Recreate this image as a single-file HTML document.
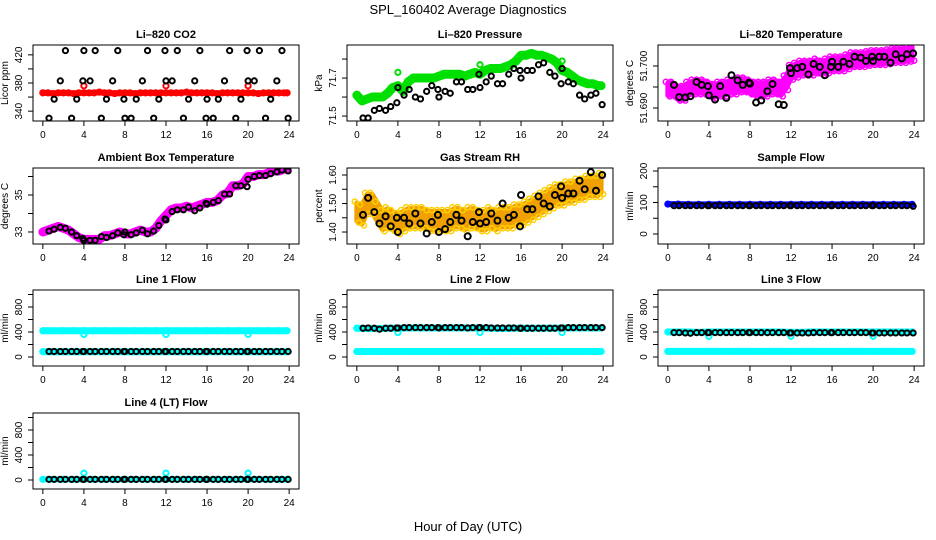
<!DOCTYPE html>
<html><head><meta charset="utf-8"><style>
html,body{margin:0;padding:0;background:#fff;}
svg{display:block;font-family:"Liberation Sans",sans-serif;}
</style></head><body>
<svg id="chart" width="936" height="540" viewBox="0 0 936 540">
<text x="468" y="14" text-anchor="middle" font-size="13">SPL_160402  Average Diagnostics</text>
<text x="468" y="531" text-anchor="middle" font-size="13">Hour of Day (UTC)</text>
</svg>
<script>
const halfT=[0,0.5,1,1.5,2,2.5,3,3.5,4,4.5,5,5.5,6,6.5,7,7.5,8,8.5,9,9.5,10,10.5,11,11.5,12,12.5,13,13.5,14,14.5,15,15.5,16,16.5,17,17.5,18,18.5,19,19.5,20,20.5,21,21.5,22,22.5,23,23.5,23.8];
const hourT=[0,1,2,3,4,5,6,7,8,9,10,11,12,13,14,15,16,17,18,19,20,21,22,23,23.8];
const blackT=[0.6,1.1,1.7,2.2,2.8,3.3,3.9,4.0,4.6,5.1,5.7,6.2,6.8,7.3,7.9,8.0,8.6,9.1,9.7,10.2,10.8,11.3,11.9,12.0,12.6,13.1,13.7,14.2,14.8,15.3,15.9,16.0,16.6,17.1,17.7,18.2,18.8,19.3,19.9,20.0,20.6,21.1,21.7,22.2,22.8,23.3,23.9];
const outlierT=[4,12,20];
const xTicks=[0,4,8,12,16,20,24];

const co2Black=[330,357,383,426,330,357,383,426,383,426,330,357,383,426,357,330,330,357,383,426,330,357,426,383,383,426,330,357,383,426,330,357,330,357,383,426,330,357,426,383,383,426,330,357,383,426,330];
const co2Red=[366,366,365,366,366,366,365,366,366,366,366,367,366,366,365,366,366,366,365,366,366,366,366,366,366,366,366,366,367,366,366,366,366,366,365,366,366,366,366,366,366,366,365,366,366,366,366,366,366];
const co2RedOut=[376,376,376];

const presBlack=[71.49,71.49,71.53,71.54,71.53,71.55,71.57,71.65,71.61,71.64,71.60,71.59,71.63,71.66,71.64,71.60,71.63,71.62,71.68,71.68,71.64,71.64,71.72,71.65,71.68,71.71,71.67,71.67,71.72,71.75,71.74,71.70,71.74,71.74,71.77,71.78,71.73,71.71,71.67,71.75,71.68,71.67,71.61,71.59,71.61,71.62,71.56];
const presGreen=[71.61,71.58,71.59,71.60,71.60,71.60,71.62,71.65,71.66,71.63,71.68,71.70,71.70,71.70,71.70,71.70,71.71,71.72,71.72,71.72,71.72,71.71,71.72,71.73,71.72,71.74,71.75,71.75,71.75,71.76,71.77,71.79,71.82,71.82,71.83,71.82,71.82,71.81,71.80,71.78,71.74,71.73,71.71,71.69,71.68,71.67,71.67,71.66,71.66];
const presGreenOut=[71.73,71.77,71.79];

const liBlack=[51.6955,51.6926,51.6925,51.6928,51.6962,51.6955,51.6952,51.6930,51.6920,51.6952,51.6924,51.6978,51.6966,51.6955,51.6960,51.6958,51.6913,51.6918,51.6940,51.6957,51.6909,51.6907,51.6995,51.6983,51.6995,51.6998,51.6980,51.7005,51.6998,51.6978,51.6998,51.7010,51.6998,51.7010,51.7005,51.7022,51.7020,51.7012,51.7022,51.7012,51.7022,51.7022,51.7008,51.7028,51.7018,51.7028,51.7030];
const liMag=[51.6945,51.6945,51.6935,51.6935,51.6945,51.6950,51.6950,51.6950,51.6945,51.6940,51.6945,51.6945,51.6950,51.6950,51.6955,51.6955,51.6950,51.6945,51.6945,51.6945,51.6950,51.6950,51.6945,51.6960,51.6985,51.6990,51.6995,51.6995,51.6995,51.7000,51.6995,51.7000,51.7005,51.7005,51.7005,51.7010,51.7015,51.7015,51.7015,51.7018,51.7020,51.7020,51.7020,51.7022,51.7025,51.7025,51.7025,51.7028,51.7030];
const liSpread=[0.0015];

const ambBlack=[33.05,33.15,33.25,33.2,33.0,32.8,32.65,32.55,32.55,32.55,32.75,32.7,32.8,32.95,32.85,33.0,32.85,32.95,33.1,32.9,33.05,33.35,33.7,33.65,34.1,34.2,34.2,34.35,34.15,34.3,34.55,34.5,34.6,34.7,35.05,35.05,35.5,35.5,35.45,35.85,36.0,36.05,36.05,36.15,36.25,36.35,36.3];
const ambMag=[33.0,33.1,33.2,33.3,33.2,33.1,32.9,32.7,32.6,32.6,32.6,32.6,32.8,32.8,32.9,33.0,32.9,32.9,33.0,33.1,33.0,33.0,33.2,33.6,33.9,34.2,34.3,34.3,34.4,34.3,34.4,34.5,34.6,34.6,34.7,35.0,35.1,35.5,35.5,35.6,36.0,36.0,36.1,36.1,36.2,36.3,36.3,36.4,36.4];

const rhBlack=[1.46,1.52,1.47,1.43,1.455,1.42,1.45,1.40,1.45,1.43,1.465,1.43,1.395,1.435,1.46,1.40,1.41,1.435,1.46,1.44,1.385,1.435,1.47,1.43,1.435,1.465,1.44,1.50,1.45,1.46,1.42,1.53,1.48,1.48,1.525,1.50,1.49,1.53,1.56,1.52,1.535,1.535,1.58,1.55,1.61,1.545,1.60];
const rhOrange=[1.47,1.46,1.50,1.50,1.47,1.44,1.45,1.44,1.43,1.44,1.45,1.45,1.45,1.45,1.44,1.44,1.44,1.44,1.44,1.45,1.45,1.44,1.45,1.45,1.44,1.44,1.45,1.44,1.45,1.45,1.45,1.46,1.46,1.47,1.48,1.49,1.50,1.51,1.52,1.53,1.53,1.54,1.54,1.55,1.55,1.56,1.56,1.56,1.57];
const rhSpread=[0.032];

const sfBlue=[95,95,94,94,94,94,94,94,94,94,94,94,94,94,94,94,94,94,94,94,94,94,94,94,94];
const sfBlack=[90,90,90,90,90,90,90,90,90,90,90,90,90,90,90,90,90,90,90,90,90,90,90,90,90,90,90,90,90,90,90,90,90,90,90,90,90,90,90,90,90,90,90,90,90,90,88];

const l1CyanHigh=[420,420,420,420,420,420,420,420,420,420,420,420,420,420,420,420,420,420,420,420,420,420,420,420,420];
const l1CyanLow=[85,85,85,85,85,85,85,85,85,85,85,85,85,85,85,85,85,85,85,85,85,85,85,85,85];
const l1CyanOut=[360,360,360];
const l1Black=[88,88,88,88,88,88,88,88,88,88,88,88,88,88,88,88,88,88,88,88,88,88,88,88,88,88,88,88,88,88,88,88,88,88,88,88,88,88,88,88,88,88,88,88,88,88,88];

const l2CyanHigh=[460,455,455,460,460,465,465,465,465,465,465,465,465,460,455,460,460,460,460,460,465,465,465,465,465];
const l2CyanLow=[88,88,88,88,88,88,88,88,88,88,88,88,88,88,88,88,88,88,88,88,88,88,88,88,88];
const l2CyanOut=[390,390,390];
const l2Black=[460,465,460,445,460,460,465,465,470,470,470,470,470,470,470,465,470,470,470,470,465,470,470,470,470,465,465,465,465,465,460,460,460,460,460,460,460,460,465,465,470,470,470,470,470,470,470];

const l3CyanHigh=[400,400,400,395,400,400,400,400,400,400,400,400,395,395,400,400,400,400,400,400,400,400,400,400,400];
const l3CyanLow=[90,90,90,90,90,90,90,90,90,90,90,90,90,90,90,90,90,90,90,90,90,90,90,90,90];
const l3CyanOut=[330,330,330];
const l3Black=[390,390,385,380,390,390,390,390,390,390,390,390,390,390,390,390,390,390,390,390,390,390,385,385,385,385,385,390,390,390,390,390,390,390,390,390,390,390,385,385,385,385,385,385,385,385,385];

const l4Cyan=[10,10,10,10,10,10,10,10,10,10,10,10,10,10,10,10,10,10,10,10,10,10,10,10,10];
const l4CyanOut=[110,110,110];
const l4Black=[10,10,10,10,10,10,10,10,10,10,10,10,10,10,10,10,10,10,10,10,10,10,10,10,10,10,10,10,10,10,10,10,10,10,10,10,10,10,10,10,10,10,10,10,10,10,10];

const NS='http://www.w3.org/2000/svg';
const svg=document.getElementById('chart');
const colLeft=[33,347,658], rowTop=[45,168,290,413], PW=266, PH=76;
function mk(tag,attrs,parent){const e=document.createElementNS(NS,tag);for(const k in attrs)e.setAttribute(k,attrs[k]);parent.appendChild(e);return e;}

function panel(name,col,row,title,ylab,ymin,ymax,ticks,labels,drawFn){
  const L=colLeft[col],T=rowTop[row];
  const g=mk('g',{},svg);
  
  
  const sx=t=>L+(t+0.96)/25.92*PW;
  const sy=v=>T+PH-(v-ymin)/(ymax-ymin)*PH;
  const defs=mk('clipPath',{id:'clip-'+name},g);
  mk('rect',{x:L,y:T,width:PW,height:PH},defs);
  const plot=mk('g',{'clip-path':'url(#clip-'+name+')'},g);
  
  
  drawFn(plot,sx,sy);
  const box=mk('rect',{x:L,y:T,width:PW,height:PH,fill:'none',stroke:'#000','stroke-width':1},g);
  
  
  const tt=mk('text',{x:L+PW/2,y:T-7,'text-anchor':'middle','font-size':11,'font-weight':'bold'},g);
  tt.textContent=title;
  
  
  const xa=mk('g',{},g);
  
  
  mk('line',{x1:sx(0),x2:sx(24),y1:T+PH,y2:T+PH,stroke:'#000'},xa);
  xTicks.forEach(v=>{
    mk('line',{x1:sx(v),x2:sx(v),y1:T+PH,y2:T+PH+5,stroke:'#000'},xa);
    const tx=mk('text',{x:sx(v),y:T+PH+17,'text-anchor':'middle','font-size':10},xa);
    tx.textContent=v;
    
    
  });
  const ya=mk('g',{},g);
  
  
  mk('line',{x1:L,x2:L,y1:sy(ticks[0]),y2:sy(ticks[ticks.length-1]),stroke:'#000'},ya);
  ticks.forEach(v=>mk('line',{x1:L-5,x2:L,y1:sy(v),y2:sy(v),stroke:'#000'},ya));
  labels.forEach(l=>{
    const y=sy(l[0]);
    const tx=mk('text',{x:L-11,y:y,'text-anchor':'middle','font-size':10,transform:'rotate(-90 '+(L-11)+' '+y+')'},ya);
    tx.textContent=l[1];
    
    
  });
  const yl=mk('text',{x:L-25,y:T+PH/2,'text-anchor':'middle','font-size':10,transform:'rotate(-90 '+(L-25)+' '+(T+PH/2)+')'},g);
  yl.textContent=ylab;
  
  
}

function band(p,sx,sy,ts,vs,color,w,nm){
  const gg=mk('g',{},p);
  
  
  mk('polyline',{points:ts.map((t,i)=>sx(t)+','+sy(vs[i])).join(' '),fill:'none',stroke:color,'stroke-width':w,'stroke-linejoin':'round','stroke-linecap':'round'},gg);
  ts.forEach((t,i)=>mk('circle',{cx:sx(t),cy:sy(vs[i]),r:2.6,fill:'none',stroke:color,'stroke-width':2},gg));
}
function spreadBand(p,sx,sy,ts,vs,sp,color,edge,nm){
  const gg=mk('g',{},p);
  
  
  const up=ts.map((t,i)=>sx(t)+','+sy(vs[i]+sp));
  const dn=ts.map((t,i)=>sx(t)+','+sy(vs[i]-sp)).reverse();
  mk('polygon',{points:up.concat(dn).join(' '),fill:color,stroke:color,'stroke-width':5,'stroke-linejoin':'round'},gg);
  ts.forEach((t,i)=>{
    mk('circle',{cx:sx(t)-2,cy:sy(vs[i]+sp*1.15),r:2.6,fill:'none',stroke:edge,'stroke-width':1.5},gg);
    mk('circle',{cx:sx(t)+2,cy:sy(vs[i]-sp*1.15),r:2.6,fill:'none',stroke:edge,'stroke-width':1.5},gg);
  });
}
function pts(p,sx,sy,ts,vs,color,nm,r){
  const gg=mk('g',{},p);
  
  
  ts.forEach((t,i)=>{
    const c=mk('circle',{cx:sx(t),cy:sy(vs[i]),r:r||2.6,fill:'none',stroke:color,'stroke-width':2},gg);
    
    
  });
}

panel('co2',0,0,'Li\u2013820 CO2','Licor ppm',326,434,[340,360,380,400,420],[[340,'340'],[380,'380'],[420,'420']],(p,sx,sy)=>{
  band(p,sx,sy,halfT,co2Red,'#ff0000',6,'co2-red-series');
  pts(p,sx,sy,outlierT,co2RedOut,'#ff0000','co2-red-outliers');
  pts(p,sx,sy,blackT,co2Black,'#000','co2-black-series');
});
panel('pressure',1,0,'Li\u2013820 Pressure','kPa',71.474,71.874,[71.5,71.6,71.7,71.8],[[71.5,'71.5'],[71.7,'71.7']],(p,sx,sy)=>{
  band(p,sx,sy,halfT,presGreen,'#00e000',9,'pressure-green-series');
  pts(p,sx,sy,outlierT,presGreenOut,'#00e000','pressure-green-outliers');
  pts(p,sx,sy,blackT,presBlack,'#000','pressure-black-series');
});
panel('li-temp',2,0,'Li\u2013820 Temperature','degrees C',51.6869,51.705,[51.690,51.695,51.700],[[51.690,'51.690'],[51.700,'51.700']],(p,sx,sy)=>{
  spreadBand(p,sx,sy,halfT,liMag,liSpread[0],'#ff00ff','#ff00ff','li-temp-magenta-series');
  pts(p,sx,sy,blackT,liBlack,'#000','li-temp-black-series',3);
});
panel('ambient',0,1,'Ambient Box Temperature','degrees C',32.35,36.46,[33,34,35,36],[[33,'33'],[35,'35']],(p,sx,sy)=>{
  band(p,sx,sy,halfT,ambMag,'#ff00ff',9,'ambient-magenta-series');
  pts(p,sx,sy,blackT,ambBlack,'#000','ambient-black-series');
});
panel('rh',1,1,'Gas Stream RH','percent',1.358,1.6246,[1.40,1.45,1.50,1.55,1.60],[[1.40,'1.40'],[1.50,'1.50'],[1.60,'1.60']],(p,sx,sy)=>{
  spreadBand(p,sx,sy,halfT,rhOrange,rhSpread[0],'#f0a000','#ffd000','rh-orange-series');
  pts(p,sx,sy,blackT,rhBlack,'#000','rh-black-series',3);
});
panel('sample-flow',2,1,'Sample Flow','ml/min',-31.7,209.5,[0,50,100,150,200],[[0,'0'],[100,'100'],[200,'200']],(p,sx,sy)=>{
  band(p,sx,sy,hourT,sfBlue,'#0000ff',6,'sample-flow-blue-series');
  pts(p,sx,sy,blackT,sfBlack,'#000','sample-flow-black-series');
});
const flowTicks=[0,200,400,600,800,1000], flowLabels=[[0,'0'],[400,'400'],[800,'800']];
panel('line1',0,2,'Line 1 Flow','ml/min',-144,1072,flowTicks,flowLabels,(p,sx,sy)=>{
  band(p,sx,sy,hourT,l1CyanHigh,'#00ffff',7,'line1-cyan-high');
  band(p,sx,sy,hourT,l1CyanLow,'#00ffff',7,'line1-cyan-low');
  pts(p,sx,sy,outlierT,l1CyanOut,'#00ffff','line1-cyan-outliers');
  pts(p,sx,sy,blackT,l1Black,'#000','line1-black-series');
});
panel('line2',1,2,'Line 2 Flow','ml/min',-144,1072,flowTicks,flowLabels,(p,sx,sy)=>{
  band(p,sx,sy,hourT,l2CyanHigh,'#00ffff',7,'line2-cyan-high');
  band(p,sx,sy,hourT,l2CyanLow,'#00ffff',7,'line2-cyan-low');
  pts(p,sx,sy,outlierT,l2CyanOut,'#00ffff','line2-cyan-outliers');
  pts(p,sx,sy,blackT,l2Black,'#000','line2-black-series');
});
panel('line3',2,2,'Line 3 Flow','ml/min',-144,1072,flowTicks,flowLabels,(p,sx,sy)=>{
  band(p,sx,sy,hourT,l3CyanHigh,'#00ffff',7,'line3-cyan-high');
  band(p,sx,sy,hourT,l3CyanLow,'#00ffff',7,'line3-cyan-low');
  pts(p,sx,sy,outlierT,l3CyanOut,'#00ffff','line3-cyan-outliers');
  pts(p,sx,sy,blackT,l3Black,'#000','line3-black-series');
});
panel('line4',0,3,'Line 4 (LT) Flow','ml/min',-144,1072,flowTicks,flowLabels,(p,sx,sy)=>{
  band(p,sx,sy,hourT,l4Cyan,'#00ffff',6,'line4-cyan-series');
  pts(p,sx,sy,outlierT,l4CyanOut,'#00ffff','line4-cyan-outliers');
  pts(p,sx,sy,blackT,l4Black,'#000','line4-black-series');
});
</script>
</body></html>
